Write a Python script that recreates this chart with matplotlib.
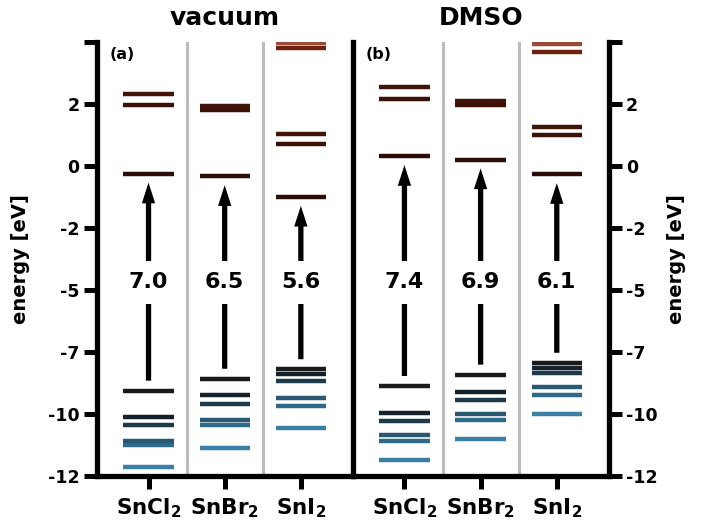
import numpy as np
import matplotlib
matplotlib.use('Agg')
import matplotlib.pyplot as plt

# column labels and panel titles
molecules = [r'SnCl$_\mathbf{2}$', r'SnBr$_\mathbf{2}$', r'SnI$_\mathbf{2}$']
panels = ['vacuum', 'DMSO']
panel_tags = ['(a)', '(b)']

# occupied levels, lowest first, HOMO last
vac_occ = [
    [-11.67, -10.81, -10.66, -10.04, -9.71, -8.70],
    [-10.91, -10.04, -9.85, -9.20, -8.88, -8.24],
    [-10.14, -9.28, -8.98, -8.33, -8.06, -7.87],
]
dmso_occ = [
    [-11.38, -10.63, -10.43, -9.88, -9.56, -8.52],
    [-10.58, -9.85, -9.59, -9.06, -8.74, -8.08],
    [-9.60, -8.86, -8.54, -8.02, -7.80, -7.62],
]
# virtual levels, LUMO first
vac_virt = [
    [-0.29, 2.39, 2.79],
    [-0.39, 2.17, 2.32],
    [-1.19, 0.86, 1.25, 4.58, 4.76],
]
dmso_virt = [
    [0.39, 2.62, 3.06],
    [0.26, 2.38, 2.53],
    [-0.31, 1.22, 1.53, 4.41, 4.72],
]
# gap labels
vac_gaps = ['7.0', '6.5', '5.6']
dmso_gaps = ['7.4', '6.9', '6.1']

# y ticks
ytick_vals = np.linspace(-12, 4.8, 8)
ytick_labels = ['-12', '-10', '-7', '-5', '-2', '0', '2', '']

# colours by orbital index
occ_colors = ['#3a80a5', '#2e6a8a', '#285872', '#1d3a4b', '#14212a', '#1a1a1a']
virt_colors = ['#2a0d07', '#3b1006', '#421408', '#6e2210', '#9c4a38']

fig = plt.figure(figsize=(7.06, 5.3), dpi=100)
ax_a = fig.add_axes([0.137, 0.102, 0.3625, 0.818])
ax_b = fig.add_axes([0.4995, 0.102, 0.3625, 0.818])

data = [(vac_occ, vac_virt, vac_gaps), (dmso_occ, dmso_virt, dmso_gaps)]

for i, ax in enumerate([ax_a, ax_b]):
    occ, virt, gaps = data[i]
    ax.set_xlim(-0.68, 2.68)
    ax.set_ylim(-12, 4.8)

    # grey column dividers
    ax.axvline(0.5, color='#bbbbbb', lw=2.2, zorder=0)
    ax.axvline(1.5, color='#bbbbbb', lw=2.2, zorder=0)

    for x in range(3):
        ax.hlines(occ[x], x - 0.33, x + 0.33, colors=occ_colors[:len(occ[x])],
                  lw=3.2, capstyle='butt', zorder=2)
        ax.hlines(virt[x], x - 0.33, x + 0.33, colors=virt_colors[:len(virt[x])],
                  lw=3.2, capstyle='butt', zorder=2)
        # HOMO -> LUMO arrow
        ax.annotate('', xy=(x, virt[x][0]), xytext=(x, occ[x][-1]),
                    arrowprops=dict(arrowstyle='simple,head_length=1.49,head_width=0.96,tail_width=0.38',
                                    mutation_scale=10, fc='black', ec='none',
                                    shrinkA=7.3, shrinkB=6.4), zorder=3)
        ax.text(x, -4.5, gaps[x], ha='center', va='center', fontsize=16, fontweight='bold',
                bbox=dict(boxstyle='square,pad=0.5', fc='white', ec='none'), zorder=6)

    ax.set_title(panels[i], fontsize=18, fontweight='bold', pad=12.5)
    ax.text(0.05, 0.971, panel_tags[i], transform=ax.transAxes, fontsize=11.5,
            fontweight='bold', ha='left', va='center')

    ax.set_xticks([0, 1, 2])
    ax.set_xticklabels(molecules, fontsize=15.5, fontweight='bold')
    ax.set_yticks(ytick_vals)
    ax.set_yticklabels(ytick_labels, fontsize=12.5, fontweight='bold')
    ax.tick_params(direction='out', length=9.5, width=3.6)
    ax.tick_params(axis='x', pad=5)
    ax.tick_params(axis='y', pad=3)
    ax.spines['top'].set_visible(False)
    for s in ax.spines.values():
        s.set_linewidth(3.8)

# the black line between the panels is the left spine of (b)
ax_a.spines['right'].set_visible(False)
ax_b.spines['left'].set_visible(True)
ax_b.spines['left'].set_zorder(5)
ax_b.yaxis.tick_right()
ax_b.yaxis.set_label_position('right')

ax_a.set_ylabel('energy [eV]', fontsize=14, fontweight='bold', labelpad=13)
ax_b.set_ylabel('energy [eV]', fontsize=14, fontweight='bold', labelpad=7)

fig.savefig('out.png', dpi=100)
